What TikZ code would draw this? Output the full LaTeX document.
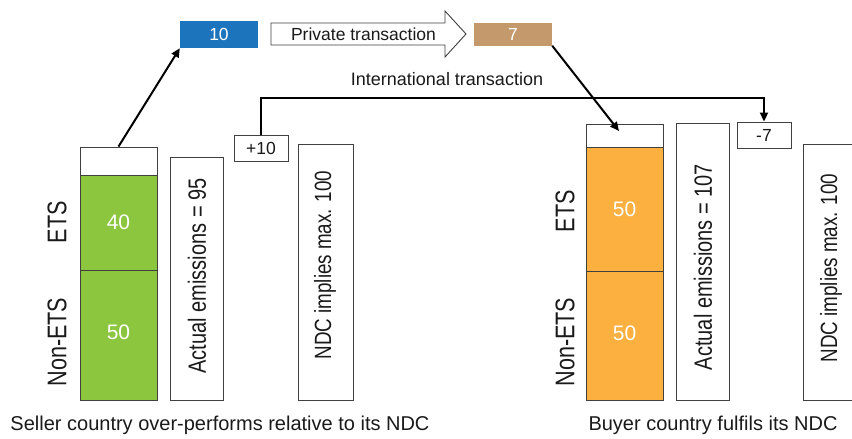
\documentclass[tikz,border=0pt]{standalone}
\usepackage{fontspec}
\setmainfont{Liberation Sans}
\newfontfamily\narrowsans[FakeStretch=0.8]{Liberation Sans}
\usetikzlibrary{arrows.meta}
\definecolor{gbar}{HTML}{8CC63F}
\definecolor{obar}{HTML}{FBB040}
\definecolor{bluebox}{HTML}{1C75BC}
\definecolor{brownbox}{HTML}{C49A6C}
\definecolor{txt}{HTML}{1A1A1A}
\definecolor{edge}{HTML}{404040}
\tikzset{
  seg/.style={draw=edge, line width=0.9pt, inner sep=0pt, minimum width=77pt},
  tbox/.style={draw=edge, line width=0.9pt, inner sep=0pt, fill=white},
  numw/.style={text=white, font=\fontsize{21}{24}\selectfont},
  sidelab/.style={rotate=90, inner sep=0pt, text=txt, font=\narrowsans\fontsize{27}{30}\selectfont},
  vlab/.style={rotate=90, inner sep=0pt, text=txt, font=\narrowsans\fontsize{24}{28}\selectfont},
  smallnum/.style={text=txt, font=\fontsize{17.5}{20}\selectfont},
  toplab/.style={inner sep=0pt, text=txt, font=\fontsize{18}{21}\selectfont},
  caption/.style={inner sep=0pt, text=txt, font=\fontsize{20}{24}\selectfont},
  conn/.style={line width=2pt, -{Triangle[length=9pt,width=8pt]}}
}
\begin{document}
\begin{tikzpicture}[x=1pt,y=-1pt]
\path[use as bounding box, clip] (0,0) rectangle (852,439);
\fill[white] (0,0) rectangle (852,439);

% ---- top row
\node[draw=none, fill=bluebox, minimum width=78pt, minimum height=27pt, inner sep=0pt,
      text=white, font=\fontsize{17.5}{20}\selectfont] (blue) at (219,34.5) {10};
\node[draw=none, fill=brownbox, minimum width=78pt, minimum height=23pt, inner sep=0pt,
      text=white, font=\fontsize{17.5}{20}\selectfont] (brown) at (513,34) {7};
\draw[edge, line width=0.9pt, fill=white]
  (271,23) -- (445,23) -- (445,11) -- (466,34) -- (445,57) -- (445,45) -- (271,45) -- cycle;
\node[toplab, font=\fontsize{17.5}{20}\selectfont] (priv) at (363.5,34) {Private transaction};

% ---- seller country
\node[seg, minimum height=28pt] (gtop) at (118.5,161) {};
\node[seg, fill=gbar, minimum height=95pt, numw] (gets) at (118.5,222.5) {40};
\node[seg, fill=gbar, minimum height=130pt, numw] (gnon) at (118.5,335) {};
\node[numw] (gnonv) at (118.5,332) {50};
\node[sidelab] (lets) at (57,222) {ETS};
\node[sidelab] (lnon) at (57,342) {Non-ETS};
\node[tbox, minimum width=53pt, minimum height=243pt] (act1) at (196.5,278.5) {};
\node[vlab, font=\narrowsans\fontsize{25}{28}\selectfont] (act1t) at (197,276) {Actual emissions = 95};
\node[tbox, minimum width=54pt, minimum height=26pt, smallnum] (plus) at (261,148) {+10};
\node[tbox, minimum width=55pt, minimum height=256pt] (ndc1) at (325.5,272) {};
\node[vlab, font=\narrowsans\fontsize{23.5}{28}\selectfont] (ndc1t) at (325,265) {NDC implies max. 100};
\node[caption] (cap1) at (220,425) {Seller country over-performs relative to its NDC};

% ---- buyer country
\node[seg, minimum height=23pt] (otop) at (624.5,135.5) {};
\node[seg, fill=obar, minimum height=124pt, numw] (oets) at (624.5,209) {50};
\node[seg, fill=obar, minimum height=129pt, numw] (onon) at (624.5,335.5) {};
\node[numw] (ononv) at (624.5,333) {50};
\node[sidelab] (rets) at (565,211) {ETS};
\node[sidelab] (rnon) at (565,342) {Non-ETS};
\node[tbox, minimum width=53pt, minimum height=277pt] (act2) at (702.5,261.5) {};
\node[vlab, font=\narrowsans\fontsize{25}{28}\selectfont] (act2t) at (703,267) {Actual emissions = 107};
\node[tbox, minimum width=54pt, minimum height=26pt, smallnum] (minus) at (764,135) {-7};
\node[tbox, minimum width=55pt, minimum height=256pt] (ndc2) at (830.5,272) {};
\node[vlab, font=\narrowsans\fontsize{23.5}{28}\selectfont] (ndc2t) at (831,268) {NDC implies max. 100};
\node[caption] (cap2) at (713,425) {Buyer country fulfils its NDC};

% ---- connectors
\coordinate (itop) at (500,98);
\coordinate (otip) at (619,131);
\draw[conn] (gtop.north) -- (blue.south west);
\draw[conn] (brown.south east) -- (otip);
\draw[conn] (plus.north) |- (itop) -| (minus.north);
\node[toplab] (intl) at (447,79) {International transaction};
\end{tikzpicture}
\end{document}
